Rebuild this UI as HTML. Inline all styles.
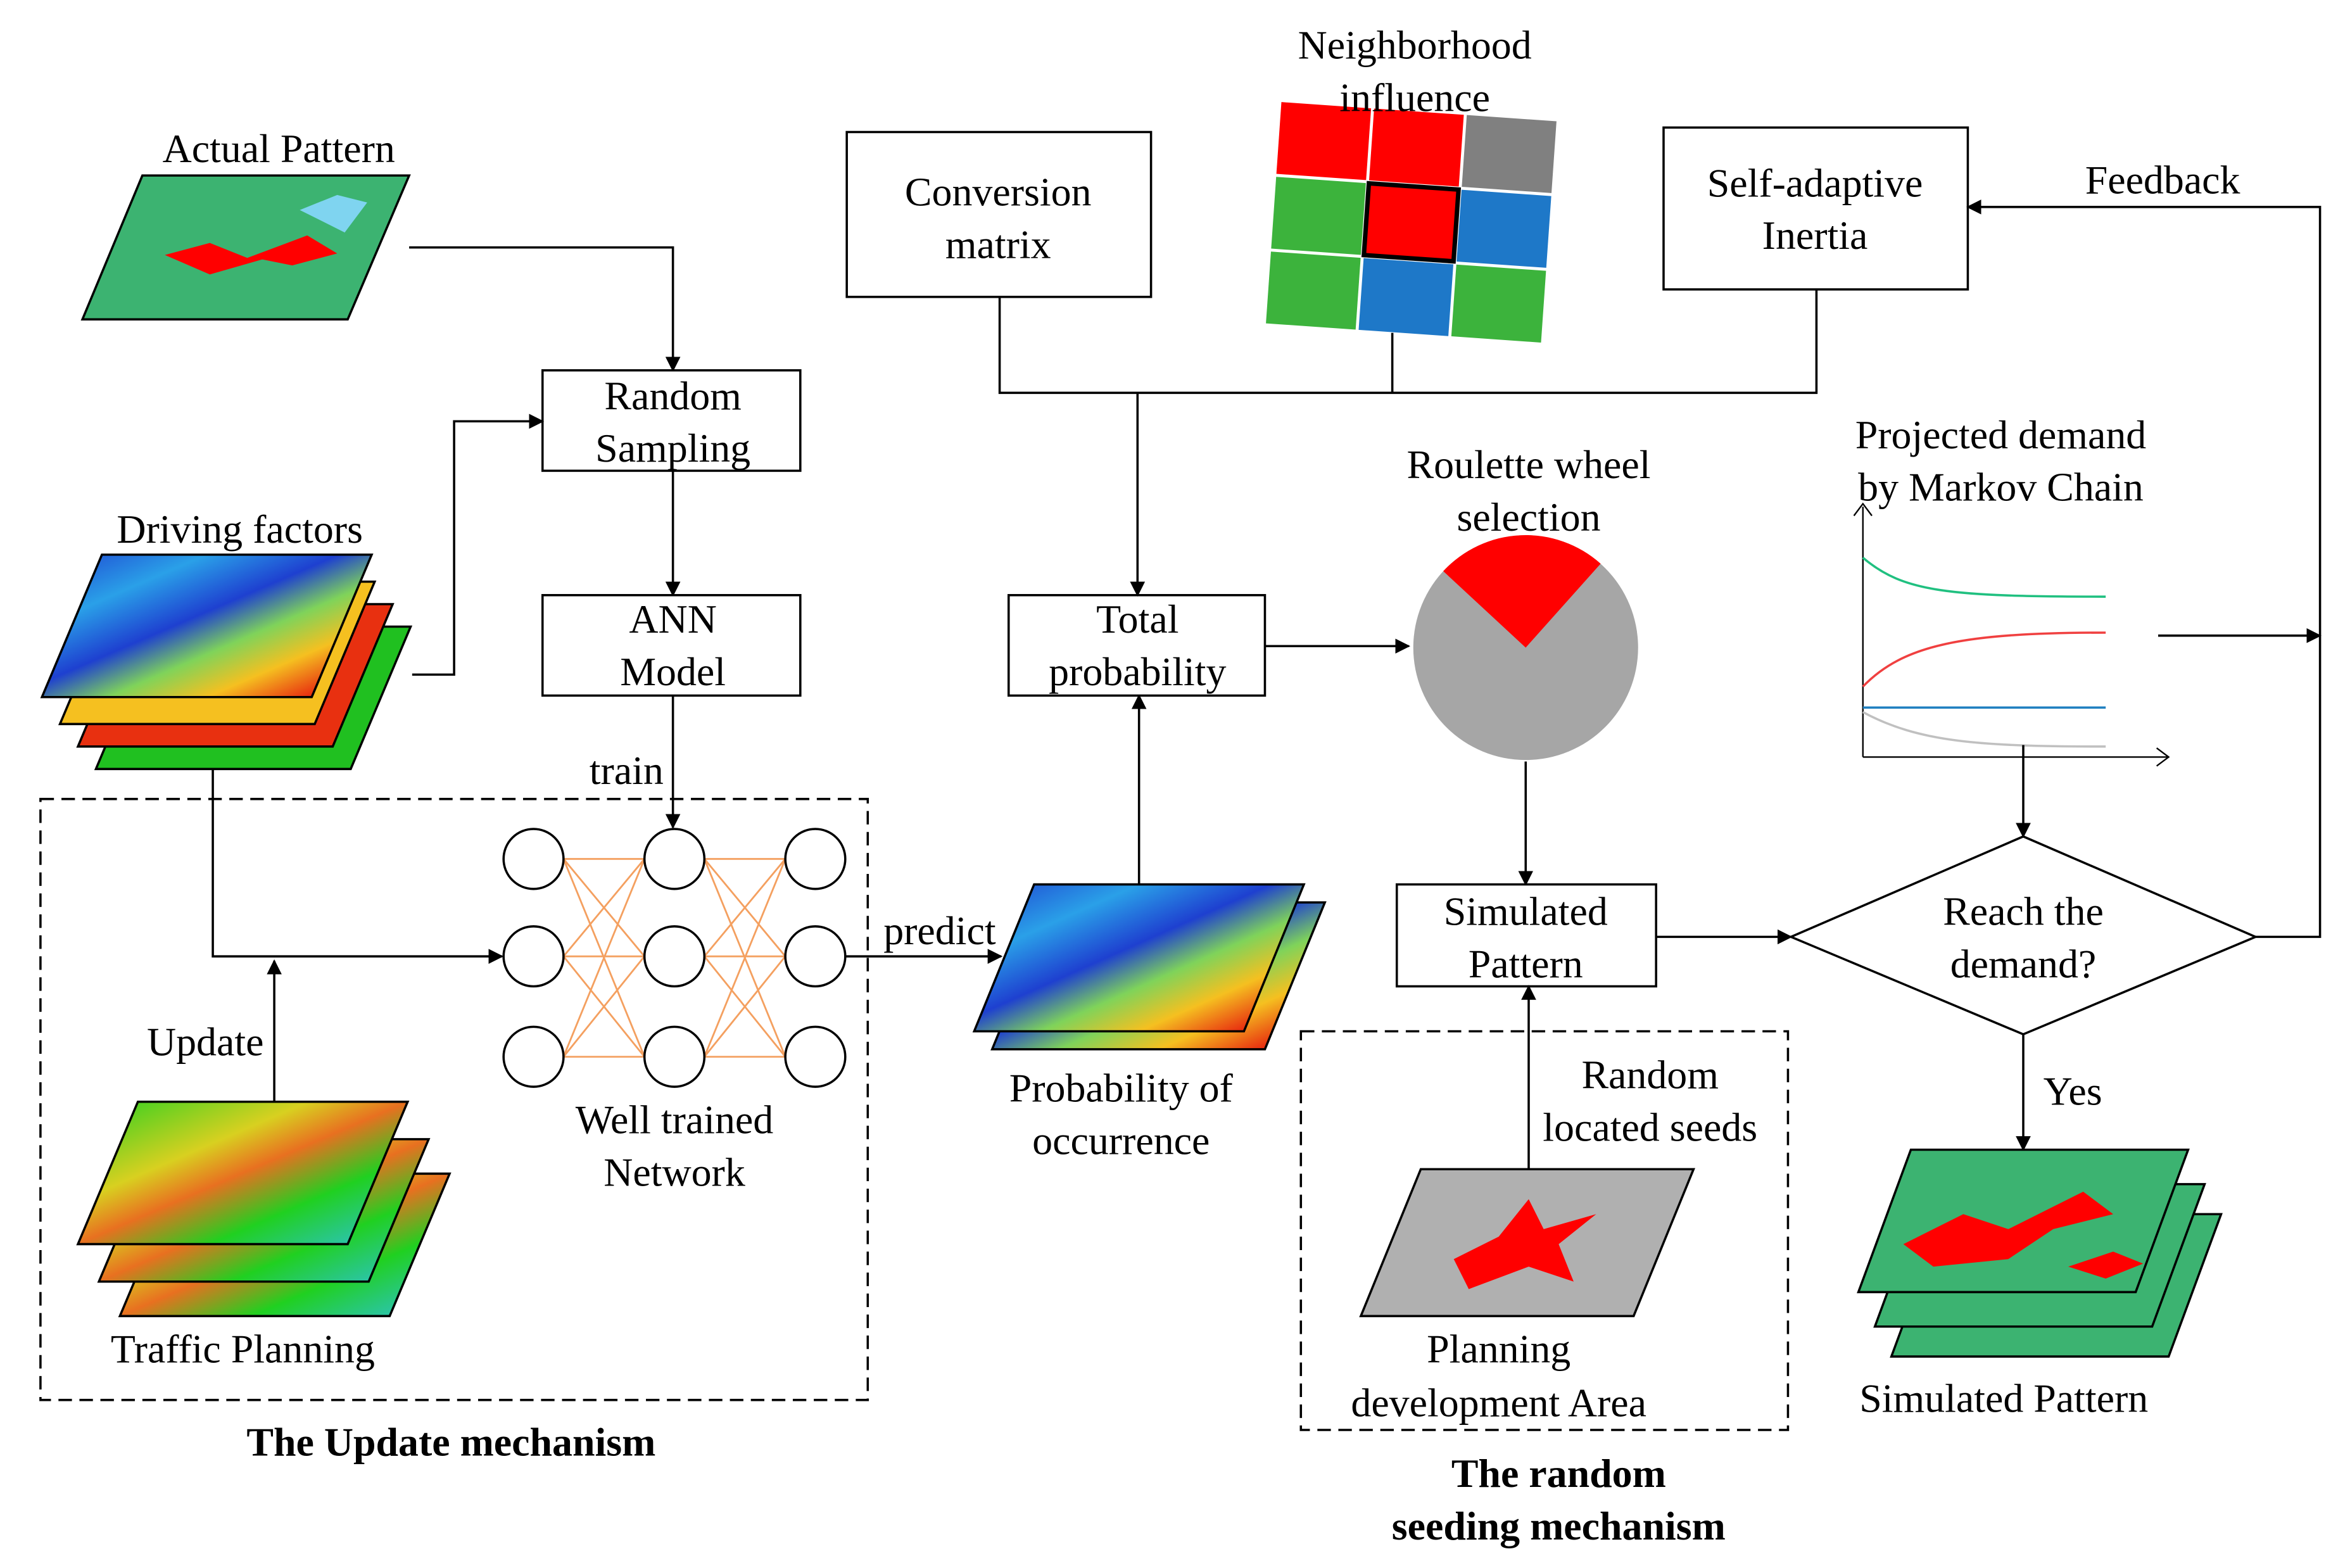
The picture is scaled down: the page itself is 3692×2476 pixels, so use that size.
<!DOCTYPE html>
<html><head><meta charset="utf-8"><style>
html,body{margin:0;padding:0;background:#fff;}
svg{display:block;}
text{font-family:"Liberation Serif",serif;font-size:27px;fill:#000;text-anchor:middle;}
.b{font-weight:bold;}
</style></head><body>
<svg width="3692" height="2476" viewBox="0 0 1560 1046" xmlns="http://www.w3.org/2000/svg">
<defs>
<marker id="a" markerWidth="10" markerHeight="10" refX="9" refY="5" orient="auto" markerUnits="userSpaceOnUse"><path d="M0,0 L10,5 L0,10 z" fill="#000"/></marker>
<linearGradient id="heat" x1="0" y1="0" x2="1" y2="1">
<stop offset="0" stop-color="#1e40d0"/><stop offset="0.25" stop-color="#2aa0e8"/><stop offset="0.45" stop-color="#1e40d0"/><stop offset="0.6" stop-color="#7fd35a"/><stop offset="0.75" stop-color="#f5c020"/><stop offset="0.9" stop-color="#e83010"/><stop offset="1" stop-color="#f0a020"/></linearGradient>
<linearGradient id="traf" x1="0" y1="0" x2="1" y2="1">
<stop offset="0" stop-color="#20d020"/><stop offset="0.35" stop-color="#d8d020"/><stop offset="0.5" stop-color="#e87020"/><stop offset="0.7" stop-color="#20d020"/><stop offset="1" stop-color="#30c0e0"/></linearGradient>
</defs>
<g fill="none" stroke="#000" stroke-width="1.5">
<!-- Actual pattern -->
<polygon points="55,213 95,117 273,117 232,213" fill="#3cb371" stroke="#000"/>
<path d="M110,170 l30,-8 l25,10 l40,-15 l20,12 l-30,8 l-20,-4 l-35,10z" fill="#f00" stroke="none"/>
<path d="M200,140 l25,-10 l20,5 l-15,20 z" fill="#7fd4f0" stroke="none"/>
<polyline points="273,165 449,165 449,247" marker-end="url(#a)"/>
<rect x="362" y="247" width="172" height="67" fill="#fff"/>
<line x1="449" y1="314" x2="449" y2="397" marker-end="url(#a)"/>
<rect x="362" y="397" width="172" height="67" fill="#fff"/>
<line x1="449" y1="464" x2="449" y2="552" marker-end="url(#a)"/>
<!-- driving factors -->
<polygon points="64,513 104,418 274,418 234,513" fill="#20c020"/>
<polygon points="52,498 92,403 262,403 222,498" fill="#e83010"/>
<polygon points="40,483 80,388 250,388 210,483" fill="#f5c020"/>
<polygon points="28,465 68,370 248,370 208,465" fill="url(#heat)"/>
<polyline points="275,450 303,450 303,281 362,281" marker-end="url(#a)"/>
<polyline points="142,513 142,638 335,638" marker-end="url(#a)"/>
<line x1="183" y1="735" x2="183" y2="641" marker-end="url(#a)"/>
<!-- traffic -->
<polygon points="80,878 120,783 300,783 260,878" fill="url(#traf)"/>
<polygon points="66,855 106,760 286,760 246,855" fill="url(#traf)"/>
<polygon points="52,830 92,735 272,735 232,830" fill="url(#traf)"/>
<rect x="27" y="533" width="552" height="401" stroke-dasharray="9,5"/>
<!-- NN -->
<g stroke="#f4a060" stroke-width="1.2">
<line x1="376" y1="573" x2="430" y2="573"/><line x1="376" y1="573" x2="430" y2="638"/><line x1="376" y1="573" x2="430" y2="705"/>
<line x1="376" y1="638" x2="430" y2="573"/><line x1="376" y1="638" x2="430" y2="638"/><line x1="376" y1="638" x2="430" y2="705"/>
<line x1="376" y1="705" x2="430" y2="573"/><line x1="376" y1="705" x2="430" y2="638"/><line x1="376" y1="705" x2="430" y2="705"/>
<line x1="470" y1="573" x2="524" y2="573"/><line x1="470" y1="573" x2="524" y2="638"/><line x1="470" y1="573" x2="524" y2="705"/>
<line x1="470" y1="638" x2="524" y2="573"/><line x1="470" y1="638" x2="524" y2="638"/><line x1="470" y1="638" x2="524" y2="705"/>
<line x1="470" y1="705" x2="524" y2="573"/><line x1="470" y1="705" x2="524" y2="638"/><line x1="470" y1="705" x2="524" y2="705"/>
</g>
<g fill="#fff">
<circle cx="356" cy="573" r="20"/><circle cx="356" cy="638" r="20"/><circle cx="356" cy="705" r="20"/>
<circle cx="450" cy="573" r="20"/><circle cx="450" cy="638" r="20"/><circle cx="450" cy="705" r="20"/>
<circle cx="544" cy="573" r="20"/><circle cx="544" cy="638" r="20"/><circle cx="544" cy="705" r="20"/>
</g>
<line x1="564" y1="638" x2="668" y2="638" marker-end="url(#a)"/>
<!-- probability -->
<polygon points="662,700 702,602 884,602 844,700" fill="url(#heat)"/>
<polygon points="650,688 690,590 870,590 830,688" fill="url(#heat)"/>
<line x1="760" y1="590" x2="760" y2="464" marker-end="url(#a)"/>
<rect x="673" y="397" width="171" height="67" fill="#fff"/>
<rect x="565" y="88" width="203" height="110" fill="#fff"/>
<rect x="1110" y="85" width="203" height="108" fill="#fff"/>
<polyline points="667,198 667,262 1212,262 1212,193"/>
<line x1="929" y1="222" x2="929" y2="262"/>
<line x1="759" y1="262" x2="759" y2="397" marker-end="url(#a)"/>
<!-- grid -->
<g transform="translate(855,68) rotate(4)" stroke="none">
<rect x="0" y="0" width="60" height="48" fill="#f00"/><rect x="62" y="0" width="60" height="48" fill="#f00"/><rect x="124" y="0" width="60" height="48" fill="#808080"/>
<rect x="0" y="50" width="60" height="48" fill="#3cb33c"/><rect x="62" y="50" width="60" height="48" fill="#f00" stroke="#000" stroke-width="3"/><rect x="124" y="50" width="60" height="48" fill="#1e78c8"/>
<rect x="0" y="100" width="60" height="48" fill="#3cb33c"/><rect x="62" y="100" width="60" height="48" fill="#1e78c8"/><rect x="124" y="100" width="60" height="48" fill="#3cb33c"/>
</g>
<line x1="844" y1="431" x2="940" y2="431" marker-end="url(#a)"/>
<circle cx="1018" cy="432" r="75" fill="#a6a6a6" stroke="none"/>
<path d="M1018,432 L963,381 A75,75 0 0,1 1068,376 Z" fill="#f00" stroke="none"/>
<line x1="1018" y1="508" x2="1018" y2="590" marker-end="url(#a)"/>
<rect x="932" y="590" width="173" height="68" fill="#fff"/>
<line x1="1105" y1="625" x2="1195" y2="625" marker-end="url(#a)"/>
<polygon points="1195,625 1350,558 1505,625 1350,690" fill="#fff"/>
<polyline points="1505,625 1548,625 1548,138 1313,138" marker-end="url(#a)"/>
<!-- chart -->
<line x1="1243" y1="505" x2="1243" y2="338" stroke-width="1"/>
<path d="M1237,344 L1243,336 L1249,344" stroke-width="1"/>
<line x1="1243" y1="505" x2="1447" y2="505" stroke-width="1"/>
<path d="M1439,499 L1447,505 L1439,511" stroke-width="1"/>
<path d="M1243,372 C1270,395 1300,398 1405,398" stroke="#20c080"/>
<path d="M1243,458 C1270,430 1310,422 1405,422" stroke="#f04040"/>
<line x1="1243" y1="472" x2="1405" y2="472" stroke="#2080c0"/>
<path d="M1243,475 C1280,495 1320,498 1405,498" stroke="#c0c0c0"/>
<line x1="1440" y1="424" x2="1548" y2="424" marker-end="url(#a)"/>
<line x1="1350" y1="497" x2="1350" y2="558" marker-end="url(#a)"/>
<line x1="1350" y1="690" x2="1350" y2="767" marker-end="url(#a)"/>
<!-- simulated stack -->
<polygon points="1262,905 1297,810 1482,810 1447,905" fill="#3cb371"/>
<polygon points="1251,885 1286,790 1471,790 1436,885" fill="#3cb371"/>
<polygon points="1240,862 1275,767 1460,767 1425,862" fill="#3cb371"/>
<path d="M1270,830 l40,-20 l30,10 l50,-25 l20,15 l-40,10 l-30,20 l-50,5z M1380,845 l30,-10 l20,8 l-25,10z" fill="#f00" stroke="none"/>
<rect x="868" y="688" width="325" height="266" stroke-dasharray="9,5"/>
<line x1="1020" y1="780" x2="1020" y2="658" marker-end="url(#a)"/>
<polygon points="908,878 948,780 1130,780 1090,878" fill="#b0b0b0"/>
<path d="M970,840 l30,-15 l20,-25 l10,20 l35,-10 l-25,20 l10,25 l-30,-10 l-40,15z" fill="#f00" stroke="none"/>
</g>
<text x="186" y="108">Actual Pattern</text>
<text x="449" y="273">Random</text><text x="449" y="308">Sampling</text>
<text x="449" y="422">ANN</text><text x="449" y="457">Model</text>
<text x="418" y="523">train</text>
<text x="160" y="362">Driving factors</text>
<text x="137" y="704">Update</text>
<text x="162" y="909">Traffic Planning</text>
<text class="b" x="301" y="971">The Update mechanism</text>
<text x="450" y="756">Well trained</text><text x="450" y="791">Network</text>
<text x="627" y="630">predict</text>
<text x="748" y="735">Probability of</text><text x="748" y="770">occurrence</text>
<text x="759" y="422">Total</text><text x="759" y="457">probability</text>
<text x="666" y="137">Conversion</text><text x="666" y="172">matrix</text>
<text x="1211" y="131">Self-adaptive</text><text x="1211" y="166">Inertia</text>
<text x="944" y="39">Neighborhood</text><text x="944" y="74">influence</text>
<text x="1443" y="129">Feedback</text>
<text x="1335" y="299">Projected demand</text><text x="1335" y="334">by Markov Chain</text>
<text x="1020" y="319">Roulette wheel</text><text x="1020" y="354">selection</text>
<text x="1018" y="617">Simulated</text><text x="1018" y="652">Pattern</text>
<text x="1350" y="617">Reach the</text><text x="1350" y="652">demand?</text>
<text x="1383" y="737">Yes</text>
<text x="1337" y="942">Simulated Pattern</text>
<text x="1101" y="726">Random</text><text x="1101" y="761">located seeds</text>
<text x="1000" y="909">Planning</text><text x="1000" y="945">development Area</text>
<text class="b" x="1040" y="992">The random</text><text class="b" x="1040" y="1027">seeding mechanism</text>
</svg>
</body></html>
